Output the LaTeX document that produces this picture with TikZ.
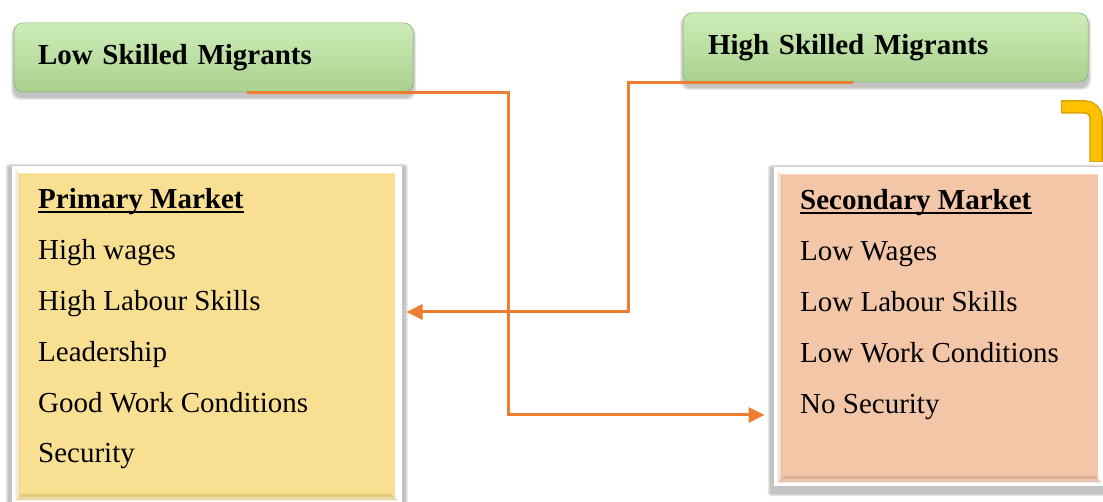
\documentclass[tikz,border=0pt]{standalone}
\usepackage{fontspec}
\setmainfont{Liberation Serif}
\usetikzlibrary{arrows.meta,backgrounds,positioning}

\definecolor{migrantgreen}{HTML}{A9D18E}
\definecolor{migrantlight}{HTML}{CDEDB8}
\definecolor{primaryfill}{HTML}{F8DF92}
\definecolor{primaryedge}{HTML}{D6BA66}
\definecolor{secondaryfill}{HTML}{F3C6A8}
\definecolor{secondaryedge}{HTML}{D3A484}
\definecolor{linkorange}{HTML}{ED7D31}
\definecolor{bendgold}{HTML}{FFC000}
\definecolor{bendedge}{HTML}{D9A200}

\tikzset{
  migrant/.style={rounded corners=9pt, top color=migrantlight, bottom color=migrantgreen,
    draw=migrantgreen!80!black, line width=0.5pt,
    minimum height=69pt, align=left, font=\bfseries\fontsize{29}{34}\selectfont},
  market/.style={draw=white, line width=7pt, inner sep=0pt},
  entry/.style={anchor=base west, inner sep=0pt, font=\fontsize{29}{34}\selectfont},
  heading/.style={entry, font=\bfseries\fontsize{29}{34}\selectfont},
  link/.style={draw=linkorange, line width=3pt, -{Triangle[length=16pt,width=15pt]}},
  softshade/.style={fill=black, opacity=.045},
}

\begin{document}
\begin{tikzpicture}[x=1pt,y=1pt]
\useasboundingbox (0,0) rectangle (1103,502);

% migrant groups
\node[migrant, minimum width=399pt, text width=351pt, inner xsep=24pt] (low) at (213.5,444.5) {Low Skilled Migrants};
\node[migrant, minimum width=405pt, text width=355pt, inner xsep=25pt] (high) at (885.5,454.5) {High Skilled Migrants};

% markets
\node[market, fill=primaryfill, minimum width=382.5pt, minimum height=331pt] (primary) at (206.75,167) {};
\fill[primaryedge, opacity=.55] ([shift={(3.5,3.5)}]primary.south west) -- ([shift={(-3.5,3.5)}]primary.south east)
  -- ([shift={(-10,10)}]primary.south east) -- ([shift={(10,10)}]primary.south west) -- cycle;
\fill[primaryedge, opacity=.3] ([shift={(3.5,3.5)}]primary.south west) -- ([shift={(3.5,-3.5)}]primary.north west)
  -- ([shift={(8,-8)}]primary.north west) -- ([shift={(8,8)}]primary.south west) -- cycle;
\fill[white, opacity=.25] ([shift={(3.5,-3.5)}]primary.north west) -- ([shift={(-3.5,-3.5)}]primary.north east)
  -- ([shift={(-8,-8)}]primary.north east) -- ([shift={(8,-8)}]primary.north west) -- cycle;

\node[market, fill=secondaryfill, minimum width=324pt, minimum height=312pt] (secondary) at (939.5,175.5) {};
\fill[secondaryedge, opacity=.6] ([shift={(3.5,3.5)}]secondary.south west) -- ([shift={(-3.5,3.5)}]secondary.south east)
  -- ([shift={(-10,10)}]secondary.south east) -- ([shift={(10,10)}]secondary.south west) -- cycle;
\fill[secondaryedge, opacity=.3] ([shift={(3.5,3.5)}]secondary.south west) -- ([shift={(3.5,-3.5)}]secondary.north west)
  -- ([shift={(8,-8)}]secondary.north west) -- ([shift={(8,8)}]secondary.south west) -- cycle;
\fill[white, opacity=.25] ([shift={(3.5,-3.5)}]secondary.north west) -- ([shift={(-3.5,-3.5)}]secondary.north east)
  -- ([shift={(-8,-8)}]secondary.north east) -- ([shift={(8,-8)}]secondary.north west) -- cycle;

% soft shadows
\begin{pgfonlayer}{background}
  \foreach \d in {1,...,6} {
    \fill[softshade, rounded corners=3pt] ([shift={(-3.5-\d/2,3.5+\d/2-4)}]primary.north west) rectangle ([shift={(3.5+\d/2,-3.5-\d/2-4)}]primary.south east);
    \fill[softshade, rounded corners=3pt] ([shift={(-3.5-\d/2,3.5+\d/2-4)}]secondary.north west) rectangle ([shift={(3.5+\d/2,-3.5-\d/2-4)}]secondary.south east);
    \fill[softshade, rounded corners=9pt] ([shift={(-\d/2,\d/2-5)}]low.north west) rectangle ([shift={(\d/2,-\d/2-5)}]low.south east);
    \fill[softshade, rounded corners=9pt] ([shift={(-\d/2,\d/2-5)}]high.north west) rectangle ([shift={(\d/2,-\d/2-5)}]high.south east);
  }
\end{pgfonlayer}

% market texts
\node[heading] (ptitle) at (38,293) {Primary Market};
\draw[line width=1.8pt] ([yshift=-3pt]ptitle.base west) -- ([yshift=-3pt]ptitle.base east);
\foreach \t [count=\i] in {High wages, High Labour Skills, Leadership, Good Work Conditions, Security}
  \node[entry] (p\i) at (38,293-50.8*\i) {\t};

\node[heading] (stitle) at (800,292) {Secondary Market};
\draw[line width=1.8pt] ([yshift=-3pt]stitle.base west) -- ([yshift=-3pt]stitle.base east);
\foreach \t [count=\i] in {Low Wages, Low Labour Skills, Low Work Conditions, No Security}
  \node[entry] (s\i) at (800,292-50.8*\i) {\t};

% connectors
\draw[link, shorten >=9.5pt] ([xshift=33.5pt]low.south) -| (508,87) -- (secondary.west |- 0,87);
\draw[link, shorten >=5pt] ([xshift=-32.5pt]high.south) -| (628,190) -- (primary.east |- 0,190);

% bent arrow at the edge
\draw[bendedge, line width=13.5pt, rounded corners=11pt] (1061,395) -- (1096,395) -- (1096,340);
\draw[bendgold, line width=10.5pt, rounded corners=10pt] (1062,395) -- (1096,395) -- (1096,341);
\end{tikzpicture}
\end{document}
